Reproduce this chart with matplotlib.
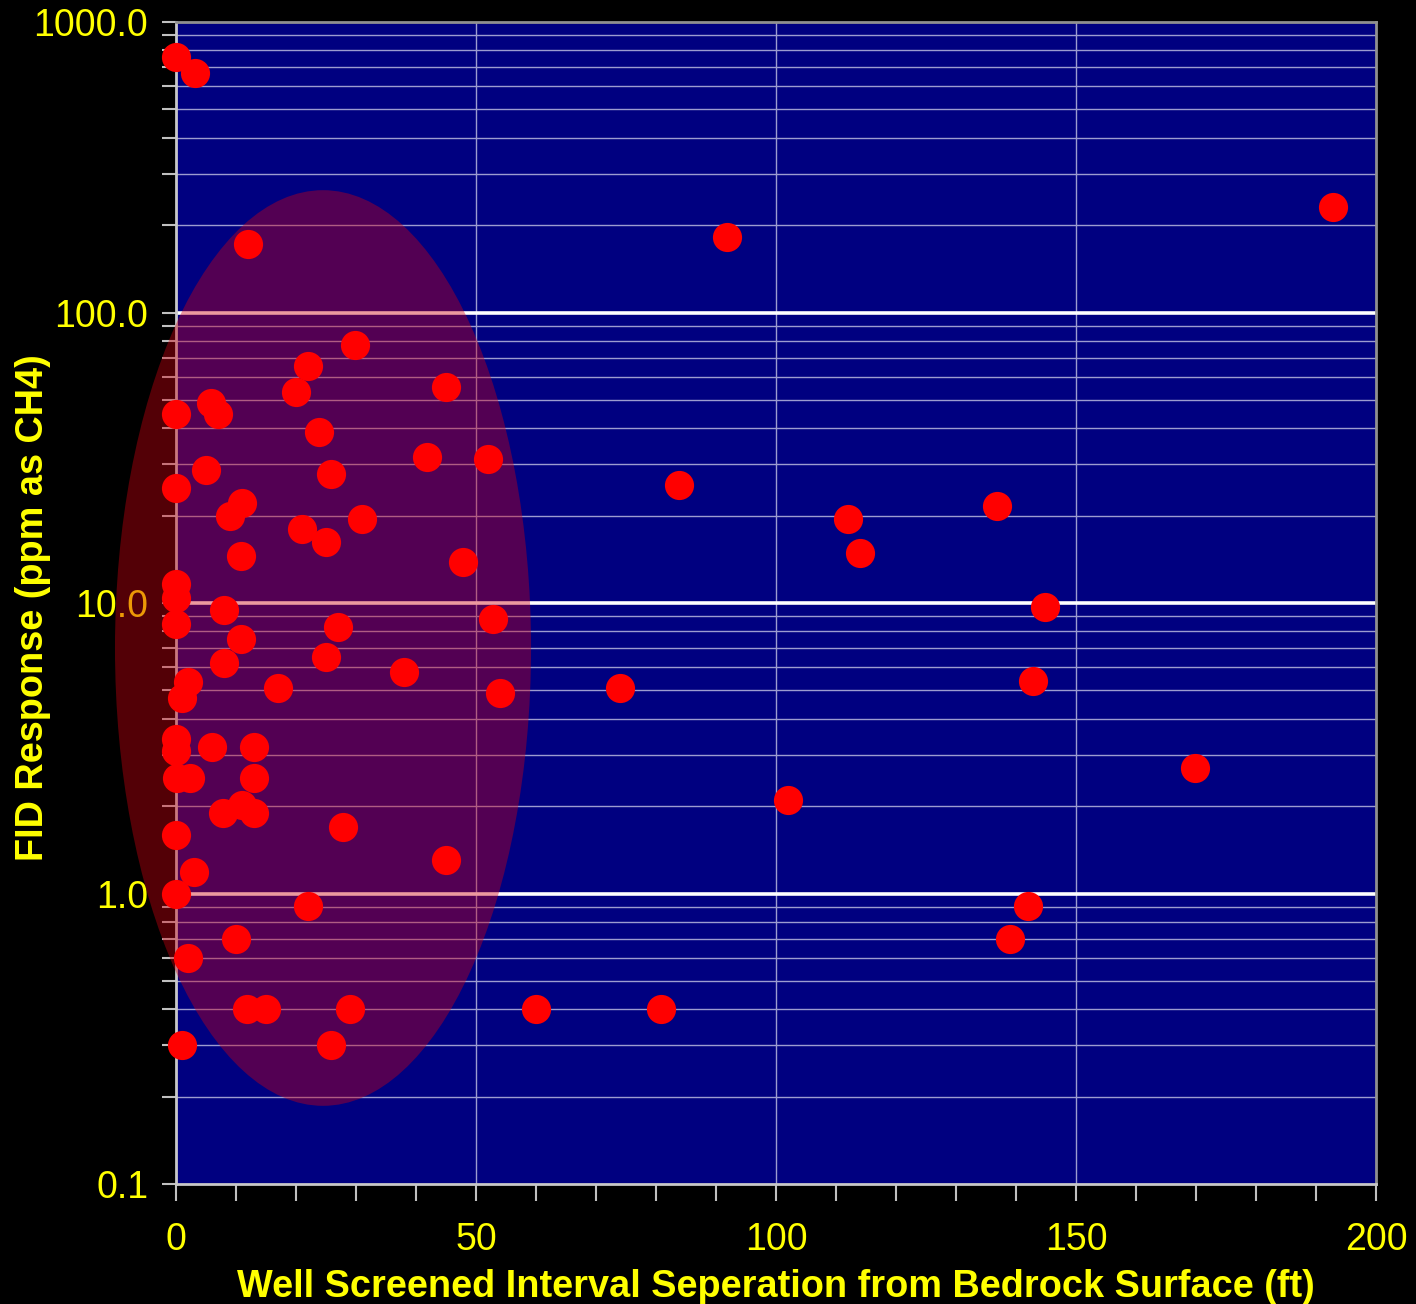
import numpy as np
import matplotlib
matplotlib.use("Agg")
import matplotlib.pyplot as plt
from matplotlib.patches import Ellipse
from matplotlib.ticker import FixedLocator, NullFormatter

plt.rcParams['font.family'] = ['Liberation Sans', 'DejaVu Sans']

# separation from bedrock surface (ft) and FID response (ppm as CH4)
sep_ft = [0, 3.2, 12, 91.8, 192.8, 29.8, 22, 20, 45, 5.8, 7, 0, 23.8, 41.8, 52,
          5, 25.8, 0, 83.8, 136.8, 11, 9, 31, 112, 21, 25, 114, 10.8, 47.8,
          0, 0, 0, 8, 144.8, 52.8, 27, 10.8, 25, 8, 38, 2, 1, 17, 74, 54,
          142.8, 0, 0, 6, 13, 0.2, 2.3, 13, 7.8, 11, 13, 102, 27.8, 169.8,
          0, 45, 3, 0, 22, 142, 139, 10, 2, 11.8, 15, 29, 60, 80.8, 1, 25.8]
fid_ppm = [759, 668, 172, 182, 231, 77.3, 65.5, 53.2, 55.4, 48.8, 44.7, 44.9,
           38.8, 31.8, 31.3, 28.7, 27.9, 24.9, 25.5, 21.6, 22.1, 19.9, 19.5,
           19.4, 18.0, 16.2, 14.9, 14.5, 13.8, 11.6, 10.4, 8.5, 9.5, 9.7, 8.8,
           8.3, 7.5, 6.5, 6.2, 5.8, 5.35, 4.7, 5.1, 5.1, 4.9, 5.4, 3.4, 3.1,
           3.2, 3.2, 2.5, 2.5, 2.5, 1.89, 2.02, 1.89, 2.1, 1.7, 2.7, 1.59, 1.3,
           1.19, 1.0, 0.906, 0.906, 0.70, 0.70, 0.60, 0.40, 0.40, 0.40, 0.40,
           0.40, 0.30, 0.30]

y_ticks = [0.1, 1, 10, 100, 1000]
y_labels = ['0.1', '1.0', '10.0', '100.0', '1000.0']
x_ticks = [0, 50, 100, 150, 200]

yel = '#ffff00'
fig = plt.figure(figsize=(14.16, 13.04), dpi=100, facecolor='black')
ax = fig.add_axes([0.1243, 0.0920, 0.8475, 0.8911])
ax.set_facecolor('#000080')
ax.set_yscale('log')
ax.set_xlim(0, 200)
ax.set_ylim(0.1, 1000)

# grid
minors = [m * 10.0**e for e in range(-1, 3) for m in range(2, 10)]
for v in minors:
    ax.axhline(v, color='#9c9cd0', lw=1.0, zorder=1)
for v in [1, 10, 100]:
    ax.axhline(v, color='white', lw=2.6, zorder=1.5)
for v in [50, 100, 150]:
    ax.axvline(v, color='#9c9cd0', lw=1.0, zorder=1)

ax.set_yticks(y_ticks)
ax.set_yticklabels(y_labels)
ax.yaxis.set_minor_locator(FixedLocator(minors))
ax.yaxis.set_minor_formatter(NullFormatter())
ax.set_xticks(x_ticks)
ax.set_xticks(np.arange(0, 201, 10), minor=True)
ax.tick_params(which='both', direction='out', colors='#c0c0c0', labelcolor=yel,
               labelsize=27, width=1.5)
ax.tick_params(axis='y', which='major', length=10, pad=10)
ax.tick_params(axis='y', which='minor', length=10)
ax.tick_params(axis='x', which='both', length=12, pad=15)

for side in ['left', 'bottom']:
    ax.spines[side].set_color('#c8c8c8')
    ax.spines[side].set_linewidth(2)
for side in ['top', 'right']:
    ax.spines[side].set_color('#909090')
    ax.spines[side].set_linewidth(2)

# highlighted cluster near bedrock
ell = Ellipse((0.1225, 0.4613), 0.3467, 0.788, transform=ax.transAxes,
              facecolor='#d00010', alpha=0.4, edgecolor='none', zorder=3,
              clip_on=False)
ax.add_patch(ell)

ax.plot(sep_ft, fid_ppm, 'o', color='#ff0000', ms=21, mec='none', zorder=5,
        clip_on=False)

ax.set_xlabel('Well Screened Interval Seperation from Bedrock Surface (ft)',
              color=yel, fontsize=27.3, fontweight='bold', labelpad=8)
ax.set_ylabel('FID Response (ppm as CH4)', color=yel, fontsize=27.3,
              fontweight='bold')
ax.yaxis.set_label_coords(-0.119, 0.4957)
ax.yaxis.label.set_verticalalignment('center')

fig.savefig('out.png', dpi=100, facecolor='black')
